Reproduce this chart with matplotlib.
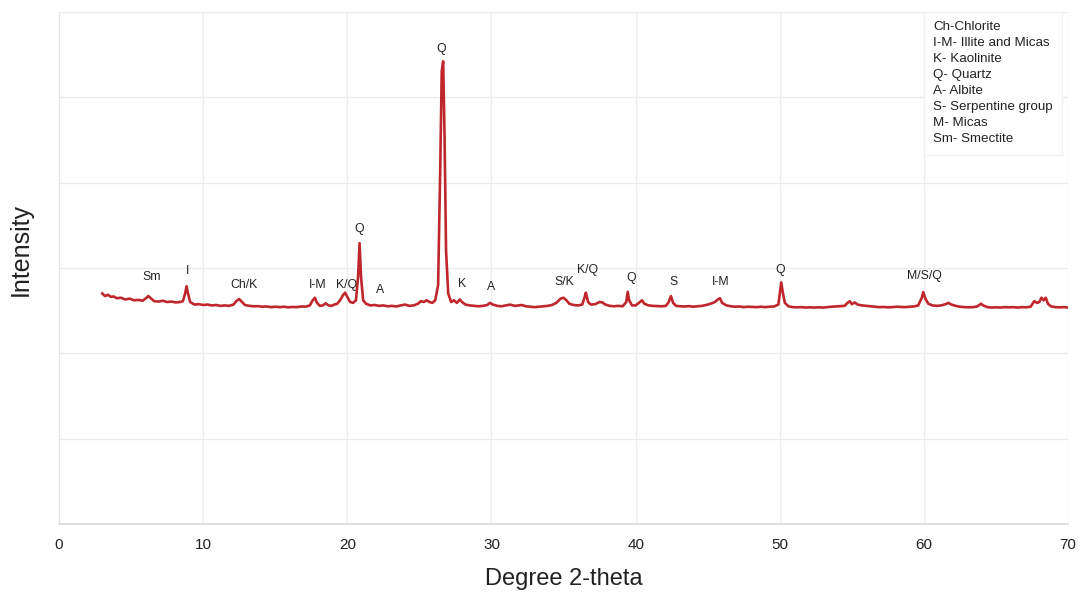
import numpy as np
import matplotlib.pyplot as plt

plt.rcParams['font.family'] = ['Liberation Sans', 'DejaVu Sans']

# patron de difraccion (2-theta, intensidad)
two_theta = [
    3.0, 3.2, 3.4, 3.6, 3.8, 4.0, 4.3, 4.6, 4.9, 5.2, 5.5, 5.8, 6.0, 6.2, 6.4, 6.6, 6.9, 7.2, 7.5, 7.8,
    8.1, 8.4, 8.6, 8.75, 8.85, 8.95, 9.1, 9.4, 9.7, 10.0, 10.3, 10.6, 10.9, 11.2, 11.5, 11.8, 12.1, 12.3,
    12.5, 12.7, 12.9, 13.2, 13.5, 13.8, 14.1, 14.4, 14.7, 15.0, 15.3, 15.6, 15.9, 16.2, 16.5, 16.8, 17.1,
    17.4, 17.6, 17.75, 17.9, 18.1, 18.3, 18.5, 18.7, 18.9, 19.1, 19.3, 19.5, 19.7, 19.85, 20.0, 20.2, 20.4,
    20.6, 20.75, 20.85, 20.95, 21.1, 21.3, 21.6, 21.9, 22.2, 22.5, 22.8, 23.1, 23.4, 23.7, 24.0, 24.3,
    24.6, 24.9, 25.1, 25.3, 25.5, 25.7, 25.9, 26.1, 26.3, 26.45, 26.55, 26.65, 26.75, 26.85, 27.0, 27.2,
    27.4, 27.6, 27.8, 27.95, 28.2, 28.5, 28.8, 29.1, 29.4, 29.7, 29.9, 30.1, 30.4, 30.7, 31.0, 31.3, 31.6,
    31.9, 32.1, 32.4, 32.7, 33.0, 33.3, 33.6, 33.9, 34.2, 34.5, 34.8, 35.0, 35.2, 35.4, 35.7, 36.0, 36.3,
    36.45, 36.55, 36.7, 36.9, 37.2, 37.5, 37.7, 37.9, 38.2, 38.5, 38.8, 39.1, 39.35, 39.45, 39.55, 39.75,
    40.0, 40.3, 40.45, 40.6, 40.9, 41.2, 41.5, 41.8, 42.1, 42.3, 42.45, 42.6, 42.8, 43.1, 43.4, 43.7, 44.0,
    44.3, 44.6, 44.9, 45.2, 45.5, 45.7, 45.85, 46.0, 46.3, 46.6, 46.9, 47.2, 47.5, 47.8, 48.1, 48.4, 48.7,
    49.0, 49.3, 49.6, 49.9, 50.0, 50.1, 50.2, 50.35, 50.6, 50.9, 51.2, 51.5, 51.8, 52.1, 52.4, 52.7, 53.0,
    53.3, 53.6, 53.9, 54.2, 54.5, 54.7, 54.85, 55.0, 55.2, 55.4, 55.7, 56.0, 56.3, 56.6, 56.9, 57.2, 57.5,
    57.8, 58.1, 58.4, 58.7, 59.0, 59.3, 59.6, 59.85, 59.95, 60.1, 60.3, 60.6, 60.9, 61.2, 61.5, 61.7, 61.9,
    62.2, 62.5, 62.8, 63.1, 63.4, 63.7, 63.95, 64.1, 64.4, 64.7, 65.0, 65.3, 65.6, 65.9, 66.2, 66.5, 66.8,
    67.1, 67.4, 67.65, 67.85, 68.0, 68.15, 68.3, 68.45, 68.6, 68.8, 69.1, 69.4, 69.7, 70.0,
]
intensity = [
    2700, 2670, 2685, 2660, 2665, 2645, 2650, 2630, 2640, 2620, 2625, 2615, 2640, 2670, 2640, 2610, 2605, 2615, 2600, 2605,
    2595, 2600, 2610, 2700, 2785, 2700, 2600, 2570, 2575, 2565, 2570, 2560, 2565, 2555, 2560, 2555, 2570, 2610,
    2635, 2600, 2565, 2555, 2550, 2552, 2545, 2548, 2540, 2545, 2540, 2545, 2538, 2542, 2540, 2548, 2545,
    2560, 2620, 2650, 2590, 2555, 2560, 2585, 2560, 2555, 2570, 2580, 2620, 2680, 2710, 2660, 2600, 2590,
    2620, 2900, 3290, 2900, 2620, 2580, 2560, 2565, 2555, 2560, 2550, 2555, 2548, 2560, 2570, 2555,
    2560, 2580, 2610, 2600, 2620, 2600, 2590, 2620, 2800, 4200, 5300, 5420, 4500, 3200, 2700, 2600,
    2620, 2590, 2630, 2600, 2570, 2560, 2555, 2550, 2555, 2565, 2590, 2570, 2555, 2550, 2560, 2570, 2555,
    2560, 2565, 2550, 2545, 2540, 2545, 2550, 2555, 2565, 2590, 2640, 2650, 2620, 2580, 2565, 2560, 2570,
    2650, 2710, 2600, 2570, 2575, 2600, 2595, 2570, 2555, 2550, 2555, 2550, 2600, 2720, 2620, 2560,
    2560, 2600, 2620, 2580, 2560, 2555, 2552, 2550, 2555, 2600, 2670, 2590, 2555, 2550, 2548, 2552, 2545,
    2550, 2555, 2565, 2580, 2600, 2630, 2645, 2590, 2560, 2550, 2545, 2548, 2540, 2545, 2542, 2540, 2545,
    2540, 2545, 2548, 2570, 2700, 2830, 2720, 2590, 2550, 2540, 2538, 2540, 2535, 2538, 2535, 2538, 2535,
    2540, 2545, 2548, 2550, 2555, 2590, 2610, 2575, 2595, 2570, 2560, 2555, 2550, 2545, 2540, 2542, 2538,
    2540, 2545, 2542, 2540, 2545, 2548, 2560, 2650, 2715, 2640, 2580, 2560, 2555, 2560, 2575, 2590, 2570,
    2555, 2545, 2540, 2538, 2540, 2548, 2580, 2560, 2540, 2535, 2538, 2535, 2540, 2538, 2540, 2535, 2540,
    2538, 2545, 2610, 2590, 2600, 2650, 2620, 2650, 2580, 2550, 2540, 2538, 2540, 2535,
]

# etiquetas de fases (texto, posicion x, altura)
peak_labels = ['Sm', 'I', 'Ch/K', 'I-M', 'K/Q', 'Q', 'A', 'Q', 'K', 'A', 'S/K', 'K/Q', 'Q', 'S', 'I-M', 'Q', 'M/S/Q']
label_x = [6.4, 8.95, 12.85, 17.95, 19.95, 20.8, 22.3, 26.5, 27.95, 29.95, 35.05, 36.7, 39.7, 42.6, 45.9, 50.0, 60.0]
label_y = [2895, 2965, 2800, 2800, 2800, 3450, 2745, 5570, 2815, 2780, 2840, 2975, 2885, 2840, 2840, 2975, 2910]

legend_lines = ['Ch-Chlorite', 'I-M- Illite and Micas', 'K- Kaolinite', 'Q- Quartz', 'A- Albite',
                'S- Serpentine group', 'M- Micas', 'Sm- Smectite']

fig = plt.figure(figsize=(10.8, 5.92), dpi=100)
ax = fig.add_axes([0.0546, 0.115, 0.9344, 0.865])

ax.plot(two_theta, intensity, color='#c0272d', linewidth=1.9)

for txt, x, y in zip(peak_labels, label_x, label_y):
    ax.text(x, y, txt, ha='center', va='center', fontsize=8.8, color='#222222')

ax.text(0.866, 0.982, '\n'.join(legend_lines), transform=ax.transAxes, ha='left', va='top',
        fontsize=9.6, color='#222222', linespacing=1.45,
        bbox=dict(facecolor='white', edgecolor='#f2f2f2', boxstyle='square,pad=0.7'))

ax.set_xlim(0, 70)
ax.set_ylim(0, 6000)
ax.set_xticks(np.arange(0, 71, 10))
ax.set_yticks(np.arange(0, 6001, 1000))
ax.set_yticklabels([])
ax.tick_params(axis='both', length=0, labelsize=11, colors='#222222', pad=10)
ax.grid(True, color='#ececec', linewidth=0.9)
ax.set_axisbelow(True)

for s in ['top', 'right']:
    ax.spines[s].set_visible(False)
ax.spines['left'].set_color('#e6e6e6')
ax.spines['bottom'].set_color('#d8d8d8')
ax.spines['bottom'].set_linewidth(1.2)

ax.set_xlabel('Degree 2-theta', fontsize=17, color='#222222', labelpad=12)
ax.set_ylabel('Intensity', fontsize=18, color='#222222')
ax.yaxis.set_label_coords(-0.026, 0.535)

plt.savefig('out.png', dpi=100)
